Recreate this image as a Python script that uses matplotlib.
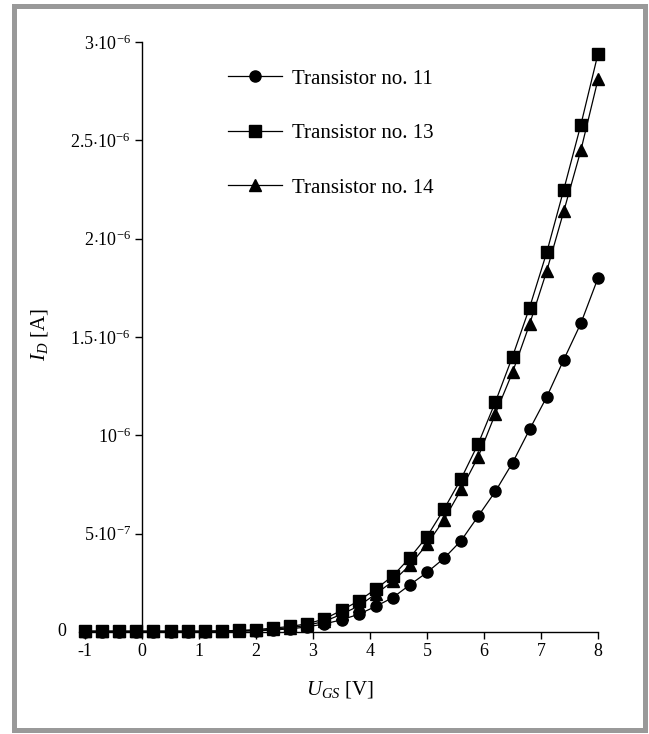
import matplotlib
matplotlib.use("Agg")
import matplotlib.pyplot as plt
from matplotlib.patches import Rectangle

plt.rcParams['font.family'] = ['Liberation Serif', 'DejaVu Serif']
plt.rcParams['mathtext.fontset'] = 'custom'
plt.rcParams['mathtext.rm'] = 'Liberation Serif'
plt.rcParams['mathtext.it'] = 'Liberation Serif:italic'

# gate-source voltage [V]
u_gs = [-1.0, -0.7, -0.4, -0.1, 0.2, 0.5, 0.8, 1.1, 1.4, 1.7, 2.0,
        2.3, 2.6, 2.9, 3.2, 3.5, 3.8, 4.1, 4.4, 4.7, 5.0,
        5.3, 5.6, 5.9, 6.2, 6.5, 6.8, 7.1, 7.4, 7.7, 8.0]

# drain current, in units of 1e-6 A
id_11 = [0.002, 0.002, 0.002, 0.002, 0.002, 0.002, 0.002, 0.002, 0.003, 0.004, 0.006,
         0.010, 0.016, 0.026, 0.041, 0.062, 0.090, 0.130, 0.175, 0.240, 0.303,
         0.375, 0.465, 0.590, 0.715, 0.860, 1.030, 1.195, 1.385, 1.570, 1.800]
id_13 = [0.005, 0.005, 0.005, 0.005, 0.005, 0.005, 0.005, 0.005, 0.006, 0.008, 0.012,
         0.020, 0.028, 0.042, 0.066, 0.110, 0.158, 0.218, 0.285, 0.378, 0.485,
         0.625, 0.780, 0.958, 1.170, 1.400, 1.650, 1.930, 2.250, 2.580, 2.940]
id_14 = [0.003, 0.003, 0.003, 0.003, 0.003, 0.003, 0.003, 0.003, 0.004, 0.006, 0.008,
         0.014, 0.022, 0.034, 0.054, 0.090, 0.132, 0.193, 0.258, 0.340, 0.446,
         0.572, 0.725, 0.892, 1.110, 1.320, 1.565, 1.835, 2.140, 2.450, 2.810]

y_ticks = [0, 0.5e-6, 1e-6, 1.5e-6, 2e-6, 2.5e-6, 3e-6]
y_ticklabels = ['', r'5$\cdot$10$^{-7}$', r'10$^{-6}$', r'1.5$\cdot$10$^{-6}$',
                r'2$\cdot$10$^{-6}$', r'2.5$\cdot$10$^{-6}$', r'3$\cdot$10$^{-6}$']
x_ticks = [-1, 0, 1, 2, 3, 4, 5, 6, 7, 8]

fig = plt.figure(figsize=(6.49, 7.34), dpi=100)
ax = fig.add_axes([79.3 / 649, 102 / 734, (598 - 79.3) / 649, 590 / 734])

scale = 1e-6
l11, = ax.plot(u_gs, [v * scale for v in id_11], color='black', lw=0.9,
               marker='o', ms=8, clip_on=False, zorder=3, label='Transistor no. 11')
l14, = ax.plot(u_gs, [v * scale for v in id_14], color='black', lw=0.9,
               marker='^', ms=9, clip_on=False, zorder=4, label='Transistor no. 14')
l13, = ax.plot(u_gs, [v * scale for v in id_13], color='black', lw=0.9,
               marker='s', ms=8.5, clip_on=False, zorder=5, label='Transistor no. 13')

ax.set_xlim(-1.1, 8)
ax.set_ylim(0, 3e-6)
ax.spines['top'].set_visible(False)
ax.spines['right'].set_visible(False)
ax.spines['left'].set_position(('data', 0))
ax.spines['left'].set_zorder(6)
for s in ('left', 'bottom'):
    ax.spines[s].set_linewidth(1.0)

ax.set_xticks(x_ticks)
ax.set_xticklabels([str(t) for t in x_ticks])
ax.set_yticks(y_ticks)
ax.set_yticklabels(y_ticklabels)
ax.tick_params(direction='out', length=5, width=1.0, labelsize=13, pad=3)
ax.text(-1.33, 0, '0', ha='right', va='center', fontsize=13)

fig.text(340 / 649, (734 - 690) / 734, r'$U_{GS}$ [V]', ha='center', va='center', fontsize=15)
fig.text(40 / 649, (734 - 335) / 734, r'$I_D$ [A]', ha='center', va='center',
         rotation=90, fontsize=15)

ax.legend(handles=[l11, l13, l14], loc='upper left', frameon=False,
          bbox_to_anchor=(228 / 649, (734 - 69) / 734), bbox_transform=fig.transFigure,
          borderpad=0, borderaxespad=0, handlelength=2.6, handletextpad=0.48,
          labelspacing=1.68, fontsize=15)

fig.add_artist(Rectangle((13.5 / 649, 4.5 / 734), 631 / 649, 724 / 734,
                         transform=fig.transFigure, fill=False,
                         edgecolor='#999999', linewidth=3.6))

fig.savefig('out.png', dpi=100)
